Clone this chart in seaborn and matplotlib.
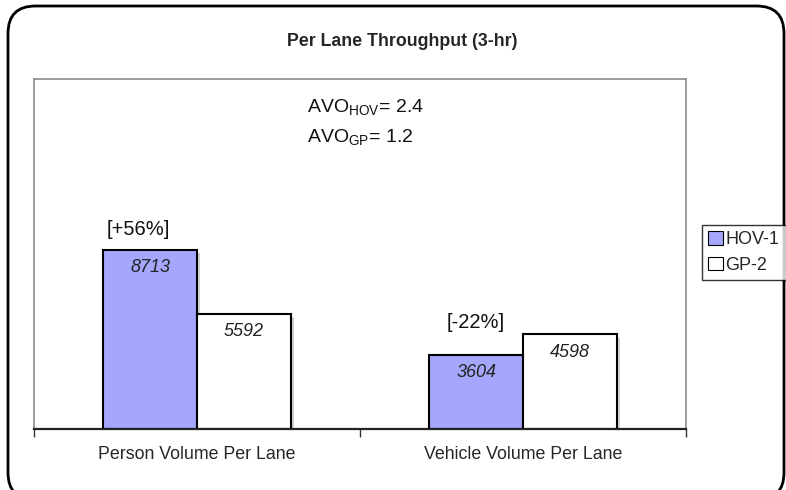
import matplotlib
matplotlib.use("Agg")
import matplotlib.pyplot as plt
import matplotlib.patheffects as pe
from matplotlib.patches import FancyBboxPatch
import seaborn as sns
import pandas as pd

categories = ["Person Volume Per Lane", "Vehicle Volume Per Lane"]
series_names = ["HOV-1", "GP-2"]
hov_values = [8713, 3604]
gp_values = [5592, 4598]
pct_labels = ["[+56%]", "[-22%]"]
avo_lines = [r"AVO$_{HOV}$= 2.4", r"AVO$_{GP}$= 1.2"]
title = "Per Lane Throughput (3-hr)"

df = pd.DataFrame({
    "category": categories * 2,
    "series": [series_names[0]] * 2 + [series_names[1]] * 2,
    "value": hov_values + gp_values,
})

sns.set_theme(style="white")
plt.rcParams["font.family"] = ["Liberation Sans", "DejaVu Sans"]
plt.rcParams["mathtext.default"] = "regular"

W, H = 786, 490
fig = plt.figure(figsize=(W / 100, H / 100), dpi=100)

def fx(px):
    return px / W

def fy(py):
    return 1 - py / H

ax = fig.add_axes([fx(34), fy(429), fx(686) - fx(34), fy(79) - fy(429)])

palette = {"HOV-1": "#a4a7fb", "GP-2": "white"}
sns.barplot(data=df, x="category", y="value", hue="series", order=categories,
            hue_order=series_names, palette=palette, width=0.575,
            edgecolor="black", linewidth=1.5, ax=ax, legend=False, saturation=1)

for p in ax.patches:
    p.set_path_effects([pe.SimplePatchShadow(offset=(2.5, -2.5), shadow_rgbFace="#c8c8c8", alpha=0.8), pe.Normal()])

for cont in ax.containers:
    ax.bar_label(cont, labels=[f"{int(v)}" for v in cont.datavalues],
                 padding=-19, fontsize=13, fontstyle="italic", color="#222222")

ax.set_ylim(0, 17000)
ax.set_xlim(-0.5, 1.5)
ax.set_yticks([])
ax.set_xlabel("")
ax.set_ylabel("")

ax.set_xticks([-0.5, 0.5, 1.5])
ax.set_xticklabels([])
ax.set_xticks([0, 1], minor=True)
ax.set_xticklabels(categories, minor=True, fontsize=12.8)
ax.tick_params(axis="x", which="major", direction="out", length=6, width=1, color="#333333", bottom=True)
ax.tick_params(axis="x", which="minor", length=0, pad=12)

for s in ["top", "left", "right"]:
    ax.spines[s].set_color("#8a8a8a")
    ax.spines[s].set_linewidth(1.2)
ax.spines["bottom"].set_color("#222222")
ax.spines["bottom"].set_linewidth(1.6)

# percentage annotations above HOV bars
hov_bars = ax.containers[0]
offsets = [(-0.035, 1000), (0.0, 1550)]
for bar, lab, (dx, dy) in zip(hov_bars, pct_labels, offsets):
    cx = bar.get_x() + bar.get_width() / 2 + dx
    ax.text(cx, bar.get_height() + dy, lab, ha="center", va="center", fontsize=14.5, color="#111111")

# AVO text
ax.text(0.418, 1 - (107 - 79) / 350, avo_lines[0], transform=ax.transAxes, ha="left", va="center", fontsize=14, color="#111111")
ax.text(0.418, 1 - (137 - 79) / 350, avo_lines[1], transform=ax.transAxes, ha="left", va="center", fontsize=14, color="#111111")

fig.text(fx(402), fy(42), title, ha="center", va="center", fontsize=12.8, fontweight="bold")

# legend
handles = [plt.Rectangle((0, 0), 1, 1, facecolor=palette[n], edgecolor="black", linewidth=0.8) for n in series_names]
leg = fig.legend(handles, series_names, loc="upper left", bbox_to_anchor=(fx(702), fy(225)),
                 bbox_transform=fig.transFigure, fontsize=13, frameon=True, fancybox=False,
                 handlelength=0.8, handleheight=0.8, handletextpad=0.15, borderpad=0.35,
                 labelspacing=0.45, borderaxespad=0)
leg.get_frame().set_edgecolor("black")
leg.get_frame().set_linewidth(1.0)

# outer rounded frame
frame = FancyBboxPatch((fx(8), fy(500)), fx(784) - fx(8), fy(6) - fy(500),
                       boxstyle="round,pad=0,rounding_size=0.035", transform=fig.transFigure,
                       facecolor="none", edgecolor="black", linewidth=2, mutation_aspect=W / H)
fig.patches.append(frame)

fig.savefig("out.png", dpi=100, facecolor="white")
